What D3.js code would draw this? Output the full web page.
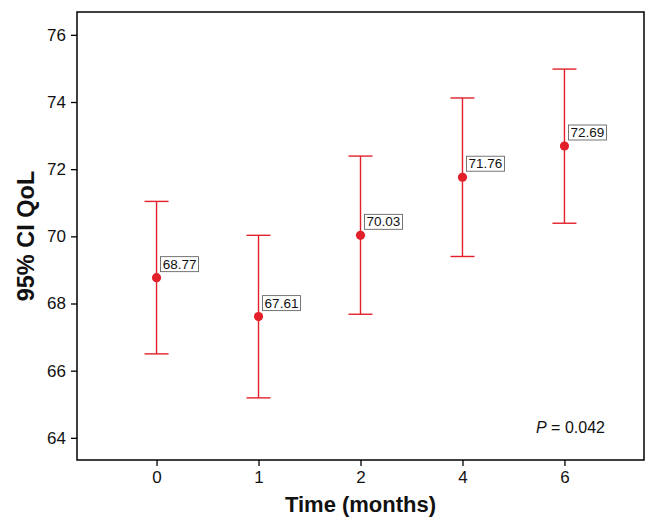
<!DOCTYPE html>
<html><head><meta charset="utf-8">
<script src="https://cdn.jsdelivr.net/npm/d3@7"></script>
<style>body{margin:0;background:#fff}svg{display:block}</style>
</head><body>
<script>
const categories = ["0","1","2","4","6"];
const means = [68.77, 67.61, 70.03, 71.76, 72.69];
const lower = [66.50, 65.19, 67.68, 69.40, 70.39];
const upper = [71.04, 70.03, 72.39, 74.12, 74.98];
const yTicks = [64, 66, 68, 70, 72, 74, 76];
const pText = "0.042";

const W = 657, H = 529;
const m = {left: 77, right: 13, top: 12, bottom: 69};
const svg = d3.select("body").append("svg").attr("width", W).attr("height", H);
const x = d3.scalePoint().domain(categories).range([m.left, W - m.right]).padding(0.78);
const y = d3.scaleLinear().domain([63.34, 76.68]).range([H - m.bottom, m.top]);
const red = "#e3202a";
const font = "Arial, 'Liberation Sans', sans-serif";

// axes
const gx = svg.append("g").attr("transform", `translate(0,${H - m.bottom})`)
  .call(d3.axisBottom(x).tickSize(6).tickPadding(5));
const gy = svg.append("g").attr("transform", `translate(${m.left},0)`)
  .call(d3.axisLeft(y).tickValues(yTicks).tickSize(6).tickPadding(5));
[gx, gy].forEach(g => {
  g.select(".domain").remove();
  g.selectAll("line").attr("stroke", "#000").attr("stroke-width", 1.3);
  g.selectAll("text").attr("font-family", font).attr("font-size", 17).attr("fill", "#111");
});

// frame
svg.append("rect").attr("x", m.left).attr("y", m.top)
  .attr("width", W - m.left - m.right).attr("height", H - m.top - m.bottom)
  .attr("fill", "none").attr("stroke", "#000").attr("stroke-width", 1.5);

const data = categories.map((c, i) => ({c, m: means[i], lo: lower[i], hi: upper[i]}));
const g = svg.append("g");
const cap = 12;
data.forEach(d => {
  const cx = x(d.c);
  g.append("line").attr("x1", cx).attr("x2", cx).attr("y1", y(d.lo)).attr("y2", y(d.hi))
    .attr("stroke", red).attr("stroke-width", 1.4);
  [d.lo, d.hi].forEach(v => g.append("line").attr("x1", cx - cap).attr("x2", cx + cap)
    .attr("y1", y(v)).attr("y2", y(v)).attr("stroke", red).attr("stroke-width", 1.4));
  g.append("circle").attr("cx", cx).attr("cy", y(d.m)).attr("r", 4.6).attr("fill", red);
  const lbl = g.append("g").attr("transform", `translate(${cx + 4},${y(d.m) - 21})`);
  lbl.append("rect").attr("width", 38).attr("height", 15).attr("fill", "#fff")
    .attr("stroke", "#666").attr("stroke-width", 0.9);
  lbl.append("text").attr("x", 19).attr("y", 12).attr("text-anchor", "middle")
    .attr("font-family", font).attr("font-size", 13.5).attr("fill", "#111").text(d.m.toFixed(2));
});

// P value
const pt = svg.append("text").attr("x", 536).attr("y", 433)
  .attr("font-family", font).attr("font-size", 16).attr("fill", "#111");
pt.append("tspan").attr("font-style", "italic").text("P");
pt.append("tspan").text(" = " + pText);

// titles
svg.append("text").attr("x", (m.left + W - m.right) / 2).attr("y", 512)
  .attr("text-anchor", "middle").attr("font-family", font).attr("font-weight", "bold")
  .attr("font-size", 22).attr("fill", "#111").text("Time (months)");
svg.append("text").attr("transform", `translate(34,236) rotate(-90)`)
  .attr("text-anchor", "middle").attr("font-family", font).attr("font-weight", "bold")
  .attr("font-size", 23.5).attr("fill", "#111").text("95% CI QoL");
</script>
</body></html>
